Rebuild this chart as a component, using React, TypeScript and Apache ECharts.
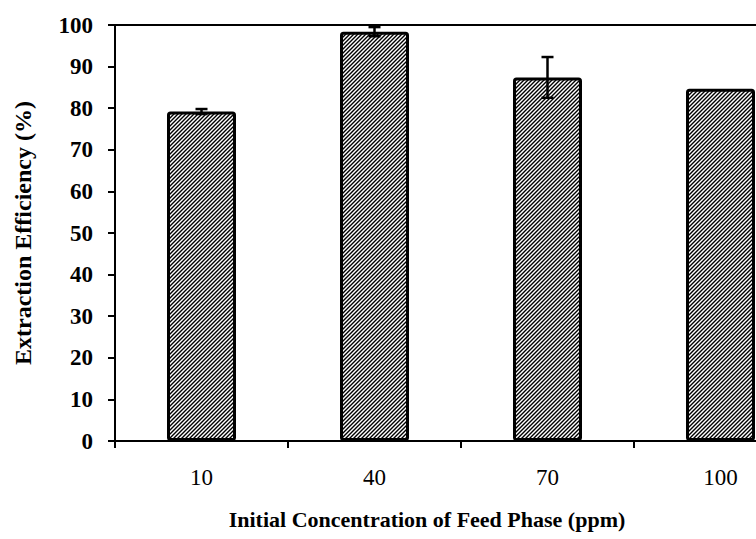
import React, { useEffect, useRef } from "react";
import * as echarts from "echarts";

const categories = ["10", "40", "70", "100"];
const efficiency = [79.2, 98.4, 87.4, 84.7];
const errors = [0.6, 1.1, 4.9, 0];
const yTicks = { min: 0, max: 100, interval: 10 };

const FONT = "'Liberation Serif', 'Times New Roman', serif";

function makeHatch(): HTMLCanvasElement {
  const c = document.createElement("canvas");
  c.width = 4;
  c.height = 4;
  const ctx = c.getContext("2d")!;
  ctx.fillStyle = "#ffffff";
  ctx.fillRect(0, 0, 4, 4);
  ctx.strokeStyle = "#000000";
  ctx.lineWidth = 1.4;
  ctx.beginPath();
  ctx.moveTo(0, 4);
  ctx.lineTo(4, 0);
  ctx.moveTo(-1, 1);
  ctx.lineTo(1, -1);
  ctx.moveTo(3, 5);
  ctx.lineTo(5, 3);
  ctx.stroke();
  return c;
}

export default function App() {
  const ref = useRef<HTMLDivElement>(null);
  useEffect(() => {
    if (!ref.current) return;
    const chart = echarts.init(ref.current, null, { renderer: "svg" });
    const hatch = makeHatch();
    chart.setOption({
      animation: false,
      backgroundColor: "#ffffff",
      grid: { left: 115, top: 25, width: 692, height: 416, outerBoundsMode: "none", containLabel: false },
      xAxis: [
        {
          type: "category",
          data: categories,
          position: "bottom",
          name: "Initial Concentration of Feed Phase (ppm)",
          nameLocation: "middle",
          nameGap: 67,
          nameTextStyle: {
            fontFamily: FONT,
            fontWeight: "bold",
            fontSize: 22,
            color: "#000",
            padding: [0, 68, 0, 0],
          },
          axisLine: { lineStyle: { color: "#000", width: 2 } },
          axisTick: { show: true, length: 7, lineStyle: { color: "#000", width: 2 } },
          axisLabel: { fontFamily: FONT, fontSize: 23, color: "#000", margin: 25 },
          splitLine: { show: false },
        },
        {
          type: "category",
          data: categories,
          position: "top",
          axisLine: { lineStyle: { color: "#000", width: 2 } },
          axisTick: { show: false },
          axisLabel: { show: false },
        },
      ],
      yAxis: {
        type: "value",
        min: yTicks.min,
        max: yTicks.max,
        interval: yTicks.interval,
        name: "Extraction Efficiency (%)",
        nameLocation: "middle",
        nameGap: 80,
        nameTextStyle: { fontFamily: FONT, fontWeight: "bold", fontSize: 24, color: "#000" },
        axisLine: { show: true, lineStyle: { color: "#000", width: 2 } },
        axisTick: { show: true, length: 7, lineStyle: { color: "#000", width: 2 } },
        axisLabel: { fontFamily: FONT, fontWeight: "bold", fontSize: 23, color: "#000", margin: 22 },
        splitLine: { show: false },
      },
      series: [
        {
          type: "bar",
          data: efficiency,
          barWidth: 69,
          itemStyle: {
            color: { image: hatch, repeat: "repeat" },
            borderColor: "#000",
            borderWidth: 3,
            borderRadius: 2,
          },
        },
        {
          type: "custom",
          z: 5,
          data: categories.map((_, i) => [i, efficiency[i], errors[i]]),
          encode: { x: 0, y: 1 },
          renderItem: (params: any, api: any) => {
            const i = api.value(0);
            const v = api.value(1);
            const e = api.value(2);
            if (!e) return null;
            const top = api.coord([i, v + e]);
            const bot = api.coord([i, v - e]);
            const hw = 6;
            const style = { stroke: "#000", lineWidth: 2.5 };
            return {
              type: "group",
              children: [
                { type: "line", shape: { x1: top[0], y1: top[1], x2: bot[0], y2: bot[1] }, style },
                { type: "line", shape: { x1: top[0] - hw, y1: top[1], x2: top[0] + hw, y2: top[1] }, style },
                { type: "line", shape: { x1: bot[0] - hw, y1: bot[1], x2: bot[0] + hw, y2: bot[1] }, style },
              ],
            };
          },
        },
      ],
    });
    return () => chart.dispose();
  }, []);
  return (
    <div
      ref={ref}
      style={{ position: "absolute", left: 0, top: 0, width: 756, height: 539 }}
    />
  );
}
